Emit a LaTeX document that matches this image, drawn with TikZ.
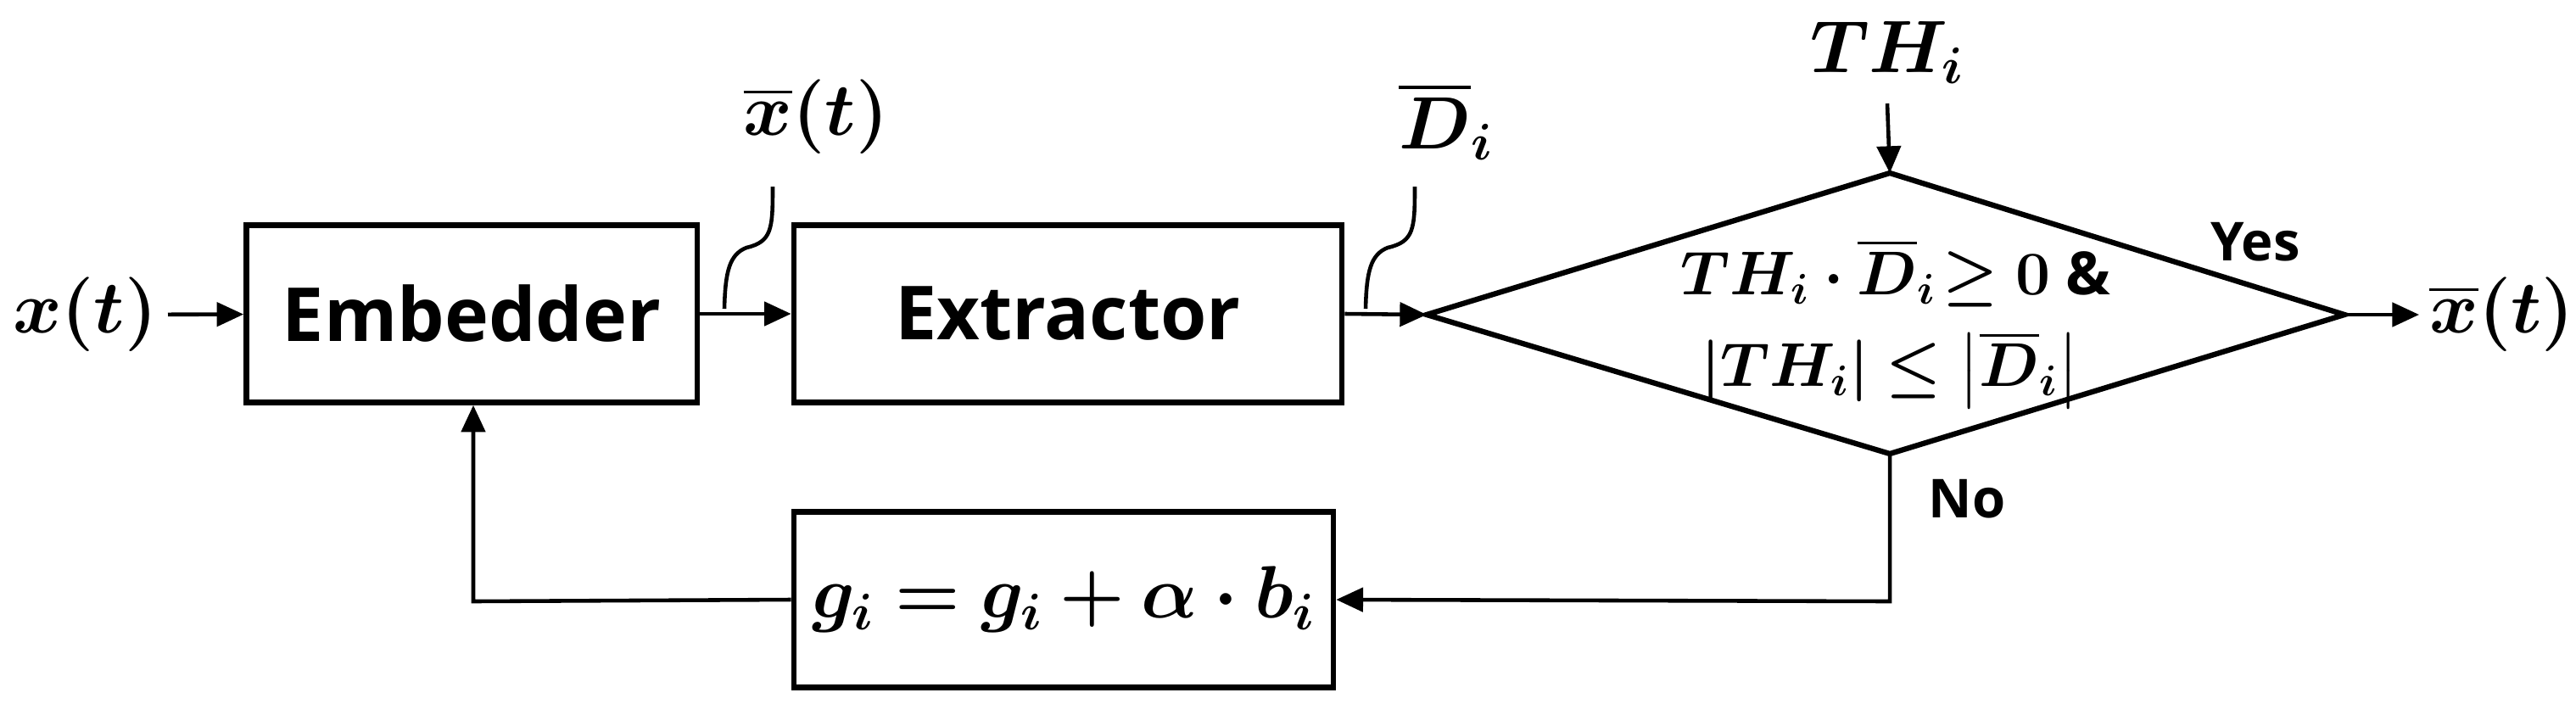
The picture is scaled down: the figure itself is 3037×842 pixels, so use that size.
\documentclass[tikz,border=0pt]{standalone}
\usepackage{amsmath,bm}
\usepackage{fontspec}
\setmainfont{Open Sans}
\usetikzlibrary{arrows.meta}
\begin{document}
\begin{tikzpicture}[x=0.01cm,y=-0.01cm,
  blk/.style={draw,line width=1.8pt,inner sep=0pt},
  lbl/.style={font=\fontsize{25}{28}\selectfont\bfseries},
  mth/.style={font=\fontsize{24}{28}\selectfont},
  ar/.style={line width=1.3pt,-{Triangle[length=9pt,width=8pt]}},
  ln/.style={line width=1.3pt}]
\useasboundingbox (0,0) rectangle (3037,842);
\node[blk,minimum width=5.31cm,minimum height=2.09cm,lbl] (emb) at (556,370) {Embedder};
\node[blk,minimum width=6.46cm,minimum height=2.09cm,lbl] (ext) at (1259,370) {Extractor};
\node[blk,minimum width=6.36cm,minimum height=2.07cm,mth] (upd) at (1254,707) {$\bm{g_i = g_i + \alpha\cdot b_i}$};
\coordinate (dl) at (1682,371);
\coordinate (dt) at (2228,204);
\coordinate (dr) at (2764,371);
\coordinate (db) at (2228,535);
\draw[line width=1.8pt] (dl) -- (dt) -- (dr) -- (db) -- cycle;
\node[font=\fontsize{20}{22}\selectfont,inner sep=0pt] (c1) at (2235,322) {$\bm{TH_i\cdot \overline{D}_i\!\geq 0}$ \textbf{\&}};
\node[font=\fontsize{20}{22}\selectfont,inner sep=0pt] (c2) at (2228,436) {$\bm{\left|TH_i\right| \leq \left|\overline{D}_i\right|}$};
\node[mth,anchor=east] (xin) at (198,371) {$\bm{x(t)}$};
\node[mth] (xb) at (962,138) {$\bm{\overline{x}(t)}$};
\node[mth] (dbar) at (1705,143) {$\bm{\overline{D}_i}$};
\node[mth] (th) at (2225,62) {$\bm{TH_i}$};
\node[mth,anchor=west] (xout) at (2852,371) {$\bm{\overline{x}(t)}$};
\node[font=\fontsize{18}{20}\selectfont\bfseries] (yes) at (2659,285) {Yes};
\node[font=\fontsize{18}{20}\selectfont\bfseries] (no) at (2319,588) {No};
\draw[ar] (xin) -- (emb);
\draw[ar] (emb) -- (ext);
\draw[ar] (ext.east) -- (dl);
\draw[ar] (th.south |- 0,122) -- (dt);
\draw[ar] (dr) -- (xout);
\draw[ar] (db) -- (2228,709) -- (upd.east);
\draw[ar] (upd.west) -- (558,709) -- (emb.south -| 558,0);
\coordinate (w1) at (854,364);
\coordinate (w2) at (911,220);
\draw[ln] (w1) .. controls (855,320) and (860,300) .. (880,292) .. controls (910,285) and (911,270) .. (w2);
\coordinate (v1) at (1610,364);
\coordinate (v2) at (1668,220);
\draw[ln] (v1) .. controls (1611,320) and (1616,300) .. (1636,292) .. controls (1667,285) and (1668,270) .. (v2);
\end{tikzpicture}
\end{document}
